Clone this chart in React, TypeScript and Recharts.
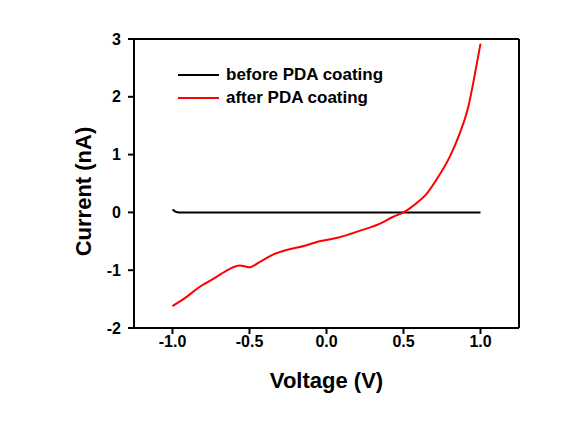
import React from 'react';
import {
  LineChart,
  Line,
  XAxis,
  YAxis,
  ReferenceLine,
  Label,
} from 'recharts';

// voltage (V) / current (nA)
const beforeV = [-1.0, -0.98, -0.96, -0.5, 0.0, 0.5, 1.0];
const beforeI = [0.05, 0.01, 0.0, 0.0, 0.0, 0.0, 0.0];

const afterV = [
  -1.0, -0.913, -0.825, -0.717, -0.63, -0.565, -0.52, -0.5, -0.435, -0.348,
  -0.26, -0.175, -0.045, 0.084, 0.214, 0.344, 0.43, 0.5, 0.58, 0.65, 0.71,
  0.8, 0.864, 0.92, 0.96, 1.0,
];
const afterI = [
  -1.62, -1.47, -1.29, -1.12, -0.98, -0.92, -0.94, -0.95, -0.86, -0.73,
  -0.65, -0.6, -0.5, -0.43, -0.32, -0.2, -0.08, 0.0, 0.15, 0.32, 0.55,
  0.96, 1.36, 1.82, 2.34, 2.92,
];

const xTicks = [-1.0, -0.5, 0.0, 0.5, 1.0];
const yTicks = [-2, -1, 0, 1, 2, 3];

const beforeData = beforeV.map((v, i) => ({ v, i: beforeI[i] }));
const afterData = afterV.map((v, i) => ({ v, i: afterI[i] }));

const FONT = '"Liberation Sans", Arial, sans-serif';

const legendItems = [
  { name: 'before PDA coating', color: '#000000' },
  { name: 'after PDA coating', color: '#ff0000' },
];

// legend sits inside the plot box, top-left
const LegendBox = () => (
  <div
    style={{
      position: 'absolute',
      left: 178,
      top: 63,
      fontFamily: FONT,
      fontWeight: 'bold',
      fontSize: 17,
    }}
  >
    {legendItems.map((it) => (
      <div key={it.name} style={{ display: 'flex', alignItems: 'center', height: 23 }}>
        <span
          style={{
            display: 'inline-block',
            width: 41,
            height: 2,
            background: it.color,
            marginRight: 7,
          }}
        />
        <span style={{ color: '#000' }}>{it.name}</span>
      </div>
    ))}
  </div>
);

const YTitle = ({ viewBox }: any) => {
  const x = viewBox.x - 1;
  const y = viewBox.y + viewBox.height / 2 + 8;
  return (
    <text
      x={x}
      y={y}
      transform={`rotate(-90, ${x}, ${y})`}
      textAnchor="middle"
      dominantBaseline="central"
      style={{ fill: '#000', fontSize: 22, fontWeight: 'bold', fontFamily: FONT }}
    >
      Current (nA)
    </text>
  );
};

const tickStyle = { fill: '#000', fontSize: 16, fontWeight: 'bold', fontFamily: FONT };

export default function App() {
  return (
    <div style={{ position: 'absolute', left: 0, top: 0, width: 574, height: 431, background: '#fff' }}>
      <LineChart
        width={574}
        height={431}
        margin={{ top: 39, right: 55, left: 84, bottom: 43 }}
      >
        <XAxis
          dataKey="v"
          type="number"
          domain={[-1.25, 1.25]}
          ticks={xTicks}
          tickFormatter={(t: number) => t.toFixed(1)}
          stroke="#000"
          strokeWidth={2}
          tickSize={6}
          tickMargin={2}
          height={60}
          tick={tickStyle}
          allowDuplicatedCategory={false}
        >
          <Label
            value="Voltage (V)"
            position="insideBottom"
            offset={0}
            style={{ fill: '#000', fontSize: 22, fontWeight: 'bold', fontFamily: FONT }}
          />
        </XAxis>
        <YAxis
          dataKey="i"
          type="number"
          domain={[-2, 3]}
          ticks={yTicks}
          stroke="#000"
          strokeWidth={2}
          tickSize={6}
          tickMargin={7}
          width={50}
          tick={tickStyle}
        >
          <Label content={<YTitle />} position="insideLeft" />
        </YAxis>
        <ReferenceLine y={3} stroke="#000" strokeWidth={2} />
        <ReferenceLine x={1.25} stroke="#000" strokeWidth={2} />
        <Line
          data={beforeData}
          dataKey="i"
          name="before PDA coating"
          stroke="#000000"
          strokeWidth={2}
          dot={false}
          type="linear"
          isAnimationActive={false}
        />
        <Line
          data={afterData}
          dataKey="i"
          name="after PDA coating"
          stroke="#ff0000"
          strokeWidth={2}
          dot={false}
          type="monotone"
          isAnimationActive={false}
        />
      </LineChart>
      <LegendBox />
    </div>
  );
}
